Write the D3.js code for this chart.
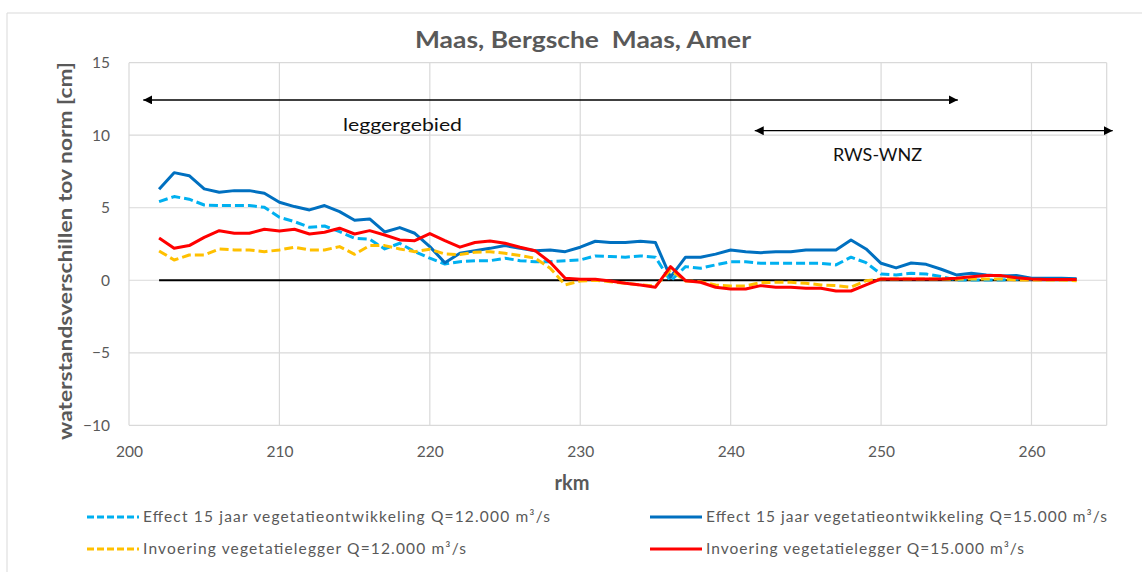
<!DOCTYPE html>
<html>
<head>
<meta charset="utf-8">
<script src="https://cdn.jsdelivr.net/npm/d3@7"></script>
<style>
  html, body { margin: 0; padding: 0; background: #fff; }
  svg { display: block; font-family: Lato, "Open Sans", sans-serif; }
</style>
</head>
<body>
<svg id="chart" width="1142" height="572"></svg>
<script>
// river kilometre positions
const rkm = [202,203,204,205,206,207,208,209,210,211,212,213,214,215,216,217,218,219,220,
  221,222,223,224,225,226,227,228,229,230,231,232,233,234,235,236,237,238,239,
  240,241,242,243,244,245,246,247,248,249,250,251,252,253,254,255,256,257,258,259,260,261,262,263];

// water level differences [cm]
const effect12 = [5.42,5.77,5.59,5.19,5.15,5.15,5.15,5.03,4.34,4.04,3.65,3.74,3.35,2.90,2.83,2.16,2.55,1.97,1.52,
  1.12,1.28,1.35,1.35,1.52,1.35,1.28,1.28,1.35,1.40,1.68,1.63,1.59,1.68,1.59,-0.05,0.94,0.83,1.06,
  1.28,1.28,1.17,1.17,1.17,1.17,1.17,1.06,1.59,1.21,0.43,0.37,0.48,0.43,0.25,0.02,0.02,0.02,0.02,0.07,0.07,0.07,0.07,0.05];
const effect15 = [6.28,7.42,7.21,6.30,6.07,6.18,6.18,6.00,5.38,5.08,4.85,5.15,4.73,4.14,4.23,3.33,3.63,3.24,2.32,
  1.21,1.86,2.04,2.20,2.39,2.20,2.04,2.09,1.97,2.28,2.69,2.60,2.60,2.69,2.60,0.21,1.59,1.59,1.80,
  2.09,1.97,1.90,1.97,1.97,2.09,2.09,2.09,2.78,2.16,1.17,0.85,1.19,1.10,0.76,0.37,0.48,0.37,0.30,0.33,0.14,0.14,0.14,0.10];
const invoer12 = [2.02,1.40,1.74,1.74,2.16,2.09,2.09,1.97,2.09,2.28,2.09,2.09,2.32,1.79,2.39,2.39,2.16,1.97,2.14,
  1.81,1.77,1.93,1.97,1.86,1.70,1.52,0.83,-0.32,-0.05,0.00,-0.10,-0.21,-0.32,-0.40,0.71,-0.05,-0.10,-0.32,
  -0.39,-0.39,-0.16,-0.14,-0.14,-0.21,-0.32,-0.37,-0.48,-0.03,0.09,0.09,0.09,0.09,0.09,0.07,0.09,0.09,0.09,0.02,0.02,0.02,0.02,-0.03];
const invoer15 = [2.92,2.21,2.39,2.96,3.42,3.24,3.24,3.52,3.40,3.52,3.19,3.31,3.59,3.19,3.42,3.12,2.78,2.73,3.22,
  2.73,2.28,2.60,2.71,2.55,2.28,2.04,1.24,0.14,0.07,0.07,-0.05,-0.21,-0.32,-0.48,0.94,-0.03,-0.14,-0.48,
  -0.60,-0.60,-0.37,-0.48,-0.48,-0.55,-0.55,-0.74,-0.74,-0.32,0.09,0.09,0.09,0.09,0.09,0.14,0.25,0.32,0.32,0.18,0.09,0.05,0.05,0.05];
const zeroLine = rkm.map(() => 0);

const xTicks = [200,210,220,230,240,250,260];
const yTicks = [-10,-5,0,5,10,15];

const seriesNames = [
  "Effect 15 jaar vegetatieontwikkeling Q=12.000 m³/s",
  "Effect 15 jaar vegetatieontwikkeling Q=15.000 m³/s",
  "Invoering vegetatielegger Q=12.000 m³/s",
  "Invoering vegetatielegger Q=15.000 m³/s"
];

// annotation ranges (rkm) and their heights (cm)
const leggerRange = [200.95, 255.1], leggerY = 12.43;
const rwsRange = [241.6, 265.4], rwsY = 10.31;

const svg = d3.select("#chart");
const W = 1142, H = 572;
const plot = { left: 129, top: 62.7, right: 1106.7, bottom: 425.3 };

const x = d3.scaleLinear().domain([200, 265]).range([plot.left, plot.right]);
const y = d3.scaleLinear().domain([-10, 15]).range([plot.bottom, plot.top]);

const textCol = "#595959";
const gridCol = "#d9d9d9";

// chart frame
svg.append("path")
  .attr("d", `M7,${H} V13 H${W}`)
  .attr("fill", "none").attr("stroke", gridCol).attr("stroke-width", 1);

// gridlines
svg.append("g").selectAll("line.v").data(xTicks.concat([265])).join("line")
  .attr("x1", d => x(d)).attr("x2", d => x(d))
  .attr("y1", plot.top).attr("y2", plot.bottom)
  .attr("stroke", gridCol).attr("stroke-width", 1.2);
svg.append("g").selectAll("line.h").data(yTicks).join("line")
  .attr("x1", plot.left).attr("x2", plot.right)
  .attr("y1", d => y(d)).attr("y2", d => y(d))
  .attr("stroke", gridCol).attr("stroke-width", 1.2);

// axes (labels only, Excel style)
const xAxis = d3.axisBottom(x).tickValues(xTicks).tickSize(0).tickPadding(21);
const gx = svg.append("g").attr("transform", `translate(0,${plot.bottom})`).call(xAxis);
gx.select(".domain").remove();
gx.selectAll("text").attr("fill", textCol).style("font-size", "15.5px").style("font-family", "Lato, sans-serif");

const yAxis = d3.axisLeft(y).tickValues(yTicks).tickSize(0).tickPadding(19);
const gy = svg.append("g").attr("transform", `translate(${plot.left},0)`).call(yAxis);
gy.select(".domain").remove();
gy.selectAll("text").attr("fill", textCol).style("font-size", "15.5px").style("font-family", "Lato, sans-serif");

// title and axis titles
svg.append("text").attr("x", 415).attr("y", 48)
  .attr("fill", textCol).style("font-size", "23px").style("font-weight", "bold")
  .style("white-space", "pre")
  .attr("textLength", 336).attr("lengthAdjust", "spacingAndGlyphs")
  .text("Maas, Bergsche  Maas, Amer");
svg.append("text").attr("x", 572).attr("y", 490).attr("text-anchor", "middle")
  .attr("fill", textCol).style("font-size", "20px").style("font-weight", "bold").text("rkm");
svg.append("text").attr("transform", `translate(72,440) rotate(-90)`)
  .attr("fill", textCol)
  .style("font-size", "19px").style("font-weight", "bold")
  .attr("textLength", 378).attr("lengthAdjust", "spacingAndGlyphs")
  .text("waterstandsverschillen tov norm [cm]");

// data lines
const line = d3.line().x((d, i) => x(rkm[i])).y(d => y(d));
const marks = svg.append("g");

marks.append("path").datum(zeroLine).attr("d", line)
  .attr("fill", "none").attr("stroke", "#000").attr("stroke-width", 2);

const series = [
  { values: effect12, color: "#00B0F0", dash: "9,4" },
  { values: effect15, color: "#0070C0", dash: null },
  { values: invoer12, color: "#FFC000", dash: "9,4" },
  { values: invoer15, color: "#FF0000", dash: null }
];
series.forEach(s => {
  marks.append("path").datum(s.values).attr("d", line)
    .attr("fill", "none").attr("stroke", s.color).attr("stroke-width", 3)
    .attr("stroke-linejoin", "round")
    .attr("stroke-dasharray", s.dash);
});

// range arrows
const defs = svg.append("defs");
defs.append("marker").attr("id", "arrow").attr("viewBox", "0 0 10 10")
  .attr("refX", 10).attr("refY", 5).attr("markerWidth", 9).attr("markerHeight", 9)
  .attr("markerUnits", "userSpaceOnUse").attr("orient", "auto-start-reverse")
  .append("path").attr("d", "M0,0 L10,5 L0,10 Z").attr("fill", "#000");

function rangeArrow(range, val) {
  svg.append("line")
    .attr("x1", x(range[0])).attr("x2", x(range[1]))
    .attr("y1", y(val)).attr("y2", y(val))
    .attr("stroke", "#000").attr("stroke-width", 1.3)
    .attr("marker-start", "url(#arrow)").attr("marker-end", "url(#arrow)");
}
rangeArrow(leggerRange, leggerY);
rangeArrow(rwsRange, rwsY);

svg.append("text").attr("x", 343).attr("y", 131)
  .attr("fill", "#111").style("font-size", "18px")
  .attr("textLength", 119).attr("lengthAdjust", "spacingAndGlyphs")
  .text("leggergebied");
svg.append("text").attr("x", 833).attr("y", 161)
  .attr("fill", "#111").style("font-size", "18px")
  .attr("textLength", 89).attr("lengthAdjust", "spacingAndGlyphs")
  .text("RWS-WNZ");

// legend
const legendItems = [
  { s: series[0], name: seriesNames[0], lx: 87, ly: 517, len: 407 },
  { s: series[1], name: seriesNames[1], lx: 650, ly: 517, len: 401 },
  { s: series[2], name: seriesNames[2], lx: 87, ly: 549, len: 323 },
  { s: series[3], name: seriesNames[3], lx: 650, ly: 549, len: 318 }
];
const lg = svg.append("g");
legendItems.forEach(it => {
  lg.append("line").attr("x1", it.lx).attr("x2", it.lx + 52)
    .attr("y1", it.ly).attr("y2", it.ly)
    .attr("stroke", it.s.color).attr("stroke-width", 3)
    .attr("stroke-dasharray", it.s.dash ? "7,3" : null);
  lg.append("text").attr("x", it.lx + 56).attr("y", it.ly + 5)
    .attr("fill", textCol).style("font-size", "15.5px")
    .attr("textLength", it.len).attr("lengthAdjust", "spacing")
    .text(it.name);
});
</script>
</body>
</html>
